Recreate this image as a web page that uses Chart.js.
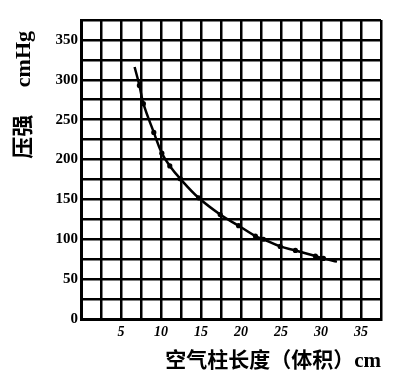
<!DOCTYPE html>
<html>
<head>
<meta charset="utf-8">
<script src="https://cdn.jsdelivr.net/npm/chart.js@4/dist/chart.umd.min.js"></script>
<style>
html,body{margin:0;padding:0;background:#fff;}
#wrap{width:400px;height:380px;}
</style>
</head>
<body>
<div id="wrap"><canvas id="c" width="400" height="380"></canvas></div>
<script>
// Air column length (cm) and pressure (cmHg)
const lengths   = [6.7, 7.3, 7.8, 9.1, 10.1, 11.1, 12.4, 14.7, 17.4, 19.7, 21.8, 22.8, 24.9, 26.8, 29.3, 30.3, 32.0];
const pressures = [316, 293, 270, 234, 208, 192, 176, 152, 131, 117, 104, 100, 91, 86, 79, 76, 72];
const xTickLabels = [5, 10, 15, 20, 25, 30, 35];
const yTickLabels = [0, 50, 100, 150, 200, 250, 300, 350];
const xTitle = '空气柱长度（体积）cm';
const yTitle = '压强     cmHg  ';

const serif = "'Liberation Serif', 'DejaVu Serif', 'Noto Sans CJK SC', serif";
const points = lengths.map((x, i) => ({x: x, y: pressures[i]}));
const radii = points.map((p, i) => (i === 0 || i === points.length - 1) ? 0 : 2.6);

new Chart(document.getElementById('c'), {
  type: 'line',
  data: {
    datasets: [{
      data: points,
      borderColor: '#000',
      backgroundColor: '#000',
      borderWidth: 2.5,
      pointRadius: radii,
      pointBackgroundColor: '#000',
      pointBorderWidth: 0,
      tension: 0.4,
      fill: false
    }]
  },
  options: {
    responsive: false,
    animation: false,
    events: [],
    layout: {padding: {left: 0, right: 19, top: 20, bottom: 0}},
    plugins: {legend: {display: false}, tooltip: {enabled: false}},
    scales: {
      x: {
        type: 'linear',
        min: 0, max: 37.5,
        afterFit: s => { s.height = 61; },
        grid: {color: '#000', lineWidth: 2.5, drawTicks: false},
        border: {color: '#000', width: 3},
        ticks: {
          stepSize: 2.5,
          padding: 5,
          color: '#000',
          maxRotation: 0,
          autoSkip: false,
          font: {family: serif, size: 14, style: 'italic', weight: 'bold'},
          callback: v => xTickLabels.includes(v) ? String(v) : ''
        },
        title: {
          display: true, text: xTitle, align: 'end', color: '#000',
          font: {family: serif, size: 21, weight: 'bold'},
          padding: {top: 0, bottom: 6}
        }
      },
      y: {
        type: 'linear',
        min: 0, max: 375,
        afterFit: s => { s.width = 81; },
        grid: {color: '#000', lineWidth: 2.5, drawTicks: false},
        border: {color: '#000', width: 3},
        ticks: {
          stepSize: 25,
          padding: 3,
          color: '#000',
          autoSkip: false,
          font: {family: serif, size: 15, weight: 'bold'},
          callback: v => yTickLabels.includes(v) ? String(v) : ''
        },
        title: {
          display: true, text: yTitle, align: 'end', color: '#000',
          font: {family: serif, size: 22, weight: 'bold'},
          padding: {top: 11, bottom: 0}
        }
      }
    }
  }
});
</script>
</body>
</html>
